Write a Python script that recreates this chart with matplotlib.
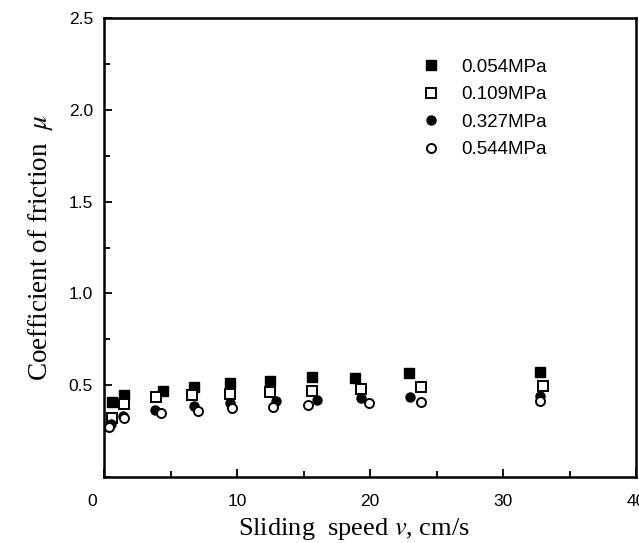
import numpy as np
import matplotlib
matplotlib.use("Agg")
import matplotlib.pyplot as plt
import matplotlib.transforms as mtransforms
from matplotlib.ticker import MultipleLocator, FixedLocator

plt.rcParams['mathtext.fontset'] = 'stix'

# sliding speed (cm/s) and friction coefficient for each contact pressure
v_054 = [0.6, 1.5, 4.4, 6.8, 9.5, 12.5, 15.6, 18.9, 22.9, 32.8]
mu_054 = [0.41, 0.447, 0.47, 0.489, 0.51, 0.524, 0.543, 0.541, 0.565, 0.574]

v_109 = [0.6, 1.5, 3.9, 6.6, 9.5, 12.5, 15.6, 19.3, 23.8, 33.0]
mu_109 = [0.32, 0.398, 0.436, 0.447, 0.452, 0.461, 0.47, 0.479, 0.489, 0.497]

v_327 = [0.5, 1.4, 3.8, 6.8, 9.5, 12.9, 16.0, 19.3, 23.0, 32.8]
mu_327 = [0.29, 0.33, 0.365, 0.387, 0.405, 0.414, 0.419, 0.432, 0.437, 0.441]

v_544 = [0.4, 1.5, 4.3, 7.1, 9.6, 12.7, 15.3, 19.9, 23.8, 32.8]
mu_544 = [0.27, 0.321, 0.349, 0.361, 0.374, 0.383, 0.392, 0.401, 0.407, 0.414]

labels = ['0.054MPa', '0.109MPa', '0.327MPa', '0.544MPa']

fig = plt.figure(figsize=(6.39, 5.43), dpi=100)
ax = fig.add_axes([0.1628, 0.1215, 0.8326, 0.8453])

ms = 6.5
ax.plot(v_054, mu_054, ls='none', marker='s', ms=ms, mfc='black', mec='black',
        label=labels[0])
ax.plot(v_109, mu_109, ls='none', marker='s', ms=ms, mfc='white', mec='black',
        mew=1.4, label=labels[1])
ax.plot(v_327, mu_327, ls='none', marker='o', ms=ms, mfc='black', mec='black',
        label=labels[2])
ax.plot(v_544, mu_544, ls='none', marker='o', ms=ms, mfc='white', mec='black',
        mew=1.4, label=labels[3])

ax.set_xlim(0, 40)
ax.set_ylim(0, 2.5)
ax.xaxis.set_major_locator(FixedLocator([0, 10, 20, 30, 40]))
ax.xaxis.set_minor_locator(MultipleLocator(5))
ax.yaxis.set_major_locator(FixedLocator([0.5, 1.0, 1.5, 2.0, 2.5]))
ax.yaxis.set_minor_locator(MultipleLocator(0.25))

for s in ax.spines.values():
    s.set_linewidth(1.8)
ax.tick_params(which='both', direction='in', width=1.3)
ax.tick_params(which='major', length=6)
ax.tick_params(which='minor', length=4)
ax.tick_params(axis='x', pad=12)
ax.tick_params(axis='y', pad=8)
for lab in ax.get_xticklabels() + ax.get_yticklabels():
    lab.set_family('Liberation Sans')
    lab.set_fontsize(12.5)

# origin label sits left of the spine in the original
off = mtransforms.ScaledTranslation(-12 / 100, 0, fig.dpi_scale_trans)
zero = ax.get_xticklabels()[0]
zero.set_transform(zero.get_transform() + off)

ax.set_xlabel(r'Sliding  speed $v$, cm/s', family='Liberation Serif',
              fontsize=19, labelpad=3)
ax.xaxis.set_label_coords(0.47, -0.085)
ax.set_ylabel(r'Coefficient of friction  $\mu$', family='Liberation Serif',
              fontsize=19.5, labelpad=10)

ax.legend(loc='upper left', bbox_to_anchor=(0.597, 0.911), frameon=False,
          prop={'family': 'Liberation Sans', 'size': 13.5},
          handlelength=1.0, handletextpad=1.1, borderpad=0, borderaxespad=0,
          labelspacing=0.55, numpoints=1)

fig.savefig('out.png', dpi=100)
